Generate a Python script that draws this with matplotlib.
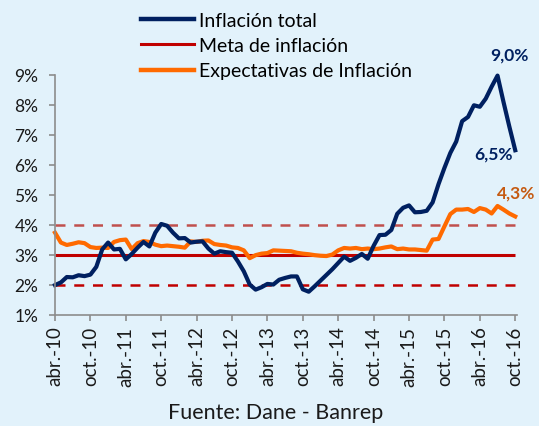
import matplotlib
matplotlib.use("Agg")
import matplotlib.pyplot as plt
from matplotlib.lines import Line2D

plt.rcParams['font.family'] = ['Lato', 'DejaVu Sans']

# Monthly data, abr-2010 .. oct-2016
inflacion_total = [
    1.98, 2.07, 2.25, 2.24, 2.31, 2.28, 2.33, 2.59, 3.17,
    3.40, 3.17, 3.19, 2.84, 3.02, 3.23, 3.42, 3.27, 3.73, 4.02, 3.96, 3.73,
    3.54, 3.55, 3.40, 3.43, 3.44, 3.20, 3.03, 3.11, 3.08, 3.06, 2.77, 2.44,
    2.00, 1.83, 1.91, 2.02, 2.00, 2.16, 2.22, 2.27, 2.27, 1.84, 1.76, 1.94,
    2.13, 2.32, 2.51, 2.72, 2.93, 2.79, 2.89, 3.02, 2.86, 3.29, 3.65, 3.66,
    3.82, 4.36, 4.56, 4.64, 4.41, 4.42, 4.46, 4.74, 5.35, 5.89, 6.39, 6.77,
    7.45, 7.59, 7.98, 7.93, 8.20, 8.60, 8.97, 8.10, 7.27, 6.48,
]
expectativas = [
    3.73, 3.40, 3.32, 3.36, 3.41, 3.38, 3.25, 3.22, 3.23, 3.22,
    3.42, 3.48, 3.50, 3.18, 3.38, 3.45, 3.42, 3.33, 3.28, 3.30,
    3.28, 3.26, 3.23, 3.44, 3.42, 3.46, 3.47, 3.35, 3.32, 3.30,
    3.24, 3.22, 3.14, 2.88, 2.98, 3.03, 3.05, 3.14, 3.13, 3.12,
    3.11, 3.06, 3.03, 3.01, 2.98, 2.96, 2.95, 3.00, 3.14, 3.22,
    3.20, 3.22, 3.18, 3.20, 3.18, 3.20, 3.24, 3.27, 3.18, 3.20,
    3.17, 3.17, 3.15, 3.13, 3.50, 3.52, 3.94, 4.35, 4.50, 4.50,
    4.52, 4.42, 4.55, 4.50, 4.37, 4.62, 4.50, 4.37, 4.27,
]
meta = 3.0
rango_inf = 2.0
rango_sup = 4.0
tick_labels = ['abr.-10', 'oct.-10', 'abr.-11', 'oct.-11', 'abr.-12', 'oct.-12',
               'abr.-13', 'oct.-13', 'abr.-14', 'oct.-14', 'abr.-15', 'oct.-15',
               'abr.-16', 'oct.-16']
y_ticks = [1, 2, 3, 4, 5, 6, 7, 8, 9]

bg = '#E2F2FB'
navy = '#002060'
red = '#C00000'
orange = '#FF6A00'

fig = plt.figure(figsize=(5.39, 4.27), dpi=100, facecolor=bg)
ax = fig.add_axes([55/539, 1-315.5/427, 462/539, (315.5-75.7)/427])
ax.set_facecolor(bg)

n = len(inflacion_total)
x = list(range(n))

ax.plot([0, n-1], [rango_sup, rango_sup], color='#C0504D', lw=1.8, dashes=(4, 3.5))
ax.plot([0, n-1], [rango_inf, rango_inf], color=red, lw=1.8, dashes=(4, 3.5))
ax.plot([0, n-1], [meta, meta], color=red, lw=2.2, solid_capstyle='butt')
ax.plot(x, expectativas, color=orange, lw=3.0, solid_joinstyle='round', clip_on=False)
ax.plot(x, inflacion_total, color=navy, lw=3.0, solid_joinstyle='round', clip_on=False)

ax.set_xlim(0, n - 1 + 0.3)
ax.set_ylim(1, 9)
ax.set_xticks(list(range(0, n, 6)))
ax.set_xticklabels(tick_labels, rotation=90, fontsize=13.5)
ax.set_yticks(y_ticks)
ax.set_yticklabels([f'{v}%' for v in y_ticks], fontsize=12.5)
for s in ['top', 'right']:
    ax.spines[s].set_visible(False)
for s in ['left', 'bottom']:
    ax.spines[s].set_color('#8C8C8C')
    ax.spines[s].set_linewidth(1.2)
ax.tick_params(axis='both', colors='#8C8C8C', labelcolor='#1A1A1A', length=4, width=1.2)
ax.tick_params(axis='y', pad=8)
ax.tick_params(axis='x', pad=4)

# annotations
ax.text(77, 9.69, '9,0%', color=navy, fontsize=12.5, fontweight='bold', ha='center', va='center')
ax.text(77.6, 6.36, '6,5%', color=navy, fontsize=12.5, fontweight='bold', ha='right', va='center')
ax.text(74.9, 5.06, '4,3%', color='#C55A11', fontsize=12.5, fontweight='bold', ha='left', va='center')

handles = [Line2D([], [], color=navy, lw=3.2),
           Line2D([], [], color=red, lw=2.2),
           Line2D([], [], color=orange, lw=3.2)]
fig.legend(handles, ['Inflación total', 'Meta de inflación', 'Expectativas de Inflación'],
           loc='upper left', bbox_to_anchor=(141/539, 1-13/427), frameon=False,
           fontsize=14, handlelength=2.75, handletextpad=0.25, labelspacing=0.42,
           borderaxespad=0, borderpad=0)

fig.text(276/539, 1-413/427, 'Fuente: Dane - Banrep', ha='center', va='center', fontsize=15.5, color='#1A1A1A')

fig.savefig('out.png', dpi=100, facecolor=bg)
